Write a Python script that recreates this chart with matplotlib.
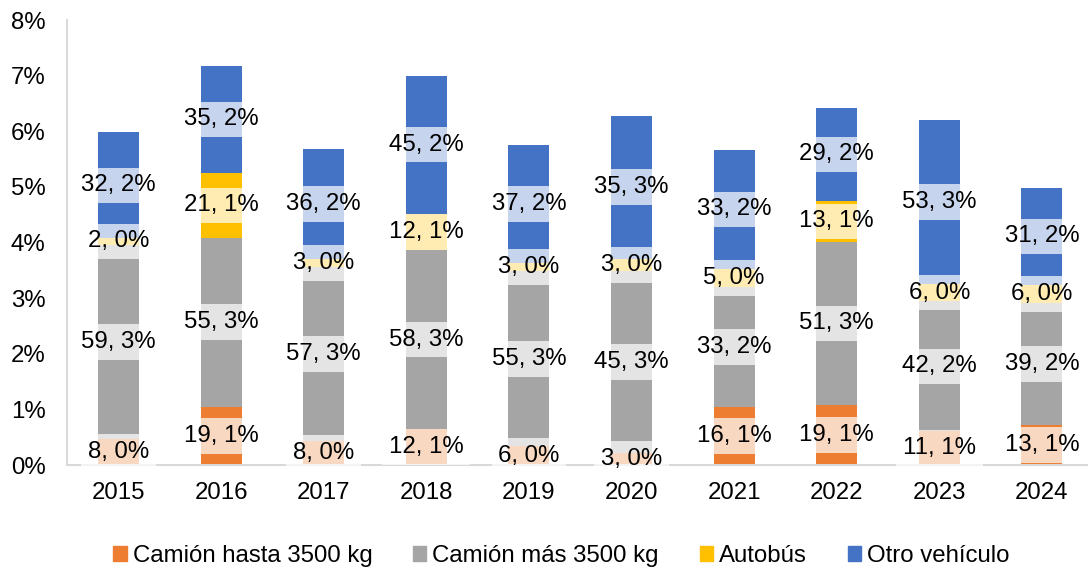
import matplotlib
matplotlib.use('Agg')
import matplotlib.pyplot as plt
from matplotlib.patches import Patch
import numpy as np

plt.rcParams['font.family'] = ['Liberation Sans', 'DejaVu Sans']

years = ['2015', '2016', '2017', '2018', '2019', '2020', '2021', '2022', '2023', '2024']
series_names = ['Camión hasta 3500 kg', 'Camión más 3500 kg', 'Autobús', 'Otro vehículo']

# percentages
pct_hasta = [0.47, 1.05, 0.44, 0.65, 0.34, 0.21, 1.04, 1.08, 0.61, 0.72]
pct_mas = [3.49, 3.04, 3.12, 3.21, 3.14, 3.28, 2.16, 2.93, 2.33, 2.19]
pct_bus = [0.12, 1.16, 0.15, 0.66, 0.16, 0.22, 0.32, 0.74, 0.32, 0.33]
pct_otro = [1.90, 1.93, 1.97, 2.48, 2.11, 2.57, 2.15, 1.67, 2.94, 1.74]

# counts shown in the data labels
n_hasta = [8, 19, 8, 12, 6, 3, 16, 19, 11, 13]
n_mas = [59, 55, 57, 58, 55, 45, 33, 51, 42, 39]
n_bus = [2, 21, 3, 12, 3, 3, 5, 13, 6, 6]
n_otro = [32, 35, 36, 45, 37, 35, 33, 29, 53, 31]

colors = ['#ED7D31', '#A5A5A5', '#FFC000', '#4472C4']
FS = 17.3

fig = plt.figure(figsize=(10.88, 5.72), dpi=100)
ax = fig.add_axes([0.0618, 0.187, 0.943, 0.778])

x = np.arange(len(years))
bottom = np.zeros(len(years))
for vals, counts, col in zip([pct_hasta, pct_mas, pct_bus, pct_otro],
                             [n_hasta, n_mas, n_bus, n_otro], colors):
    vals = np.array(vals)
    ax.bar(x, vals, 0.4, bottom=bottom, color=col, zorder=2)
    for xi, b, v, c in zip(x, bottom, vals, counts):
        ax.text(xi, b + v / 2, '%d, %.0f%%' % (c, v), ha='center', va='center',
                fontsize=FS, color='black', zorder=5,
                bbox=dict(boxstyle='square,pad=0.28', fc='white', ec='none', alpha=0.7))
    bottom = bottom + vals

ax.set_xlim(-0.5, len(years) - 0.5)
ax.set_ylim(0, 8)
ax.set_yticks(range(0, 9))
ax.set_yticklabels(['%d%%' % v for v in range(0, 9)])
ax.set_xticks(x)
ax.set_xticklabels(years)
ax.tick_params(axis='both', length=0, labelsize=FS)
ax.tick_params(axis='y', pad=15.5)
ax.tick_params(axis='x', pad=12)

for s in ['top', 'right']:
    ax.spines[s].set_visible(False)
for s in ['left', 'bottom']:
    ax.spines[s].set_color('#D9D9D9')
    ax.spines[s].set_linewidth(1.5)

handles = [Patch(color=c, label=n) for c, n in zip(colors, series_names)]
ax.legend(handles=handles, loc='center', bbox_to_anchor=(0.516, 1 - 556 / 572),
          bbox_transform=fig.transFigure, ncol=4, frameon=False, fontsize=FS,
          handlelength=0.55, handleheight=0.55, handletextpad=0.25,
          columnspacing=1.7)

fig.savefig('out.png', dpi=100)
